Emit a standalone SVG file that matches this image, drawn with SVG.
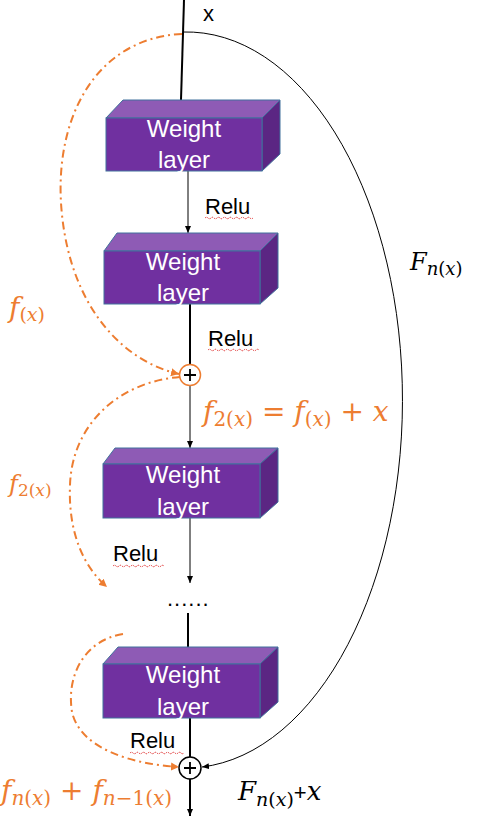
<svg xmlns="http://www.w3.org/2000/svg" width="481" height="829" viewBox="0 0 481 829">
<style>
.front{fill:#7030A0;stroke:#41719C;stroke-width:1}
.top{fill:#8E5BB5;stroke:#41719C;stroke-width:1}
.side{fill:#5B2683;stroke:#41719C;stroke-width:1}
.wl{font-family:"Liberation Sans",Arial,sans-serif;font-size:24px;fill:#fff;text-anchor:middle}
.lbl{font-family:"Liberation Sans",Arial,sans-serif;font-size:22px;fill:#000}
.m{font-family:"DejaVu Serif","Liberation Serif",serif}
.mi{font-style:italic}
.or{fill:#ED7D31}
.bk{fill:#000}
.thin{stroke:#000;stroke-width:1;fill:none}
.thick{stroke:#000;stroke-width:2;fill:none}
.dd{stroke:#ED7D31;stroke-width:2;fill:none;stroke-dasharray:8 4 2 4}
.sq{stroke:#E03030;stroke-width:1;fill:none;stroke-dasharray:1.5 1}
</style>
<defs>
<marker id="ab" markerWidth="8" markerHeight="8" refX="7" refY="4" orient="auto" markerUnits="userSpaceOnUse"><path d="M0,1 L7,4 L0,7 Z" fill="#000"/></marker>
<marker id="ao" markerWidth="10" markerHeight="10" refX="8" refY="5" orient="auto" markerUnits="userSpaceOnUse"><path d="M0,1 L8,5 L0,9 Z" fill="#ED7D31"/></marker>
</defs>

<g id="connectors">
<path class="thick" d="M184,0 L181,100"/>
<path class="thin" d="M188,171 L188,233" marker-end="url(#ab)"/>
<path class="thick" d="M190,304 L190,364"/>
<path class="thin" d="M190,386 L190,448" marker-end="url(#ab)"/>
<path class="thin" d="M190,518 L190,583" marker-end="url(#ab)"/>
<path class="thick" d="M188,613 L188,647"/>
<path class="thick" d="M190,712 L190,757"/>
<path class="thick" d="M190,779 L190,816" marker-end="url(#ab)"/>
<path class="thin" d="M183,32 A216 368 0 0 1 202,767" marker-end="url(#ab)"/>
<path class="dd" d="M182,34 C95,38 52,120 62,215 C72,310 125,362 179,374" marker-end="url(#ao)"/>
<path class="dd" d="M180,377 C118,382 72,425 70,485 C68,535 85,568 107,587" marker-end="url(#ao)"/>
<path class="dd" d="M123,634 C85,640 66,675 72,712 C80,748 130,764 179,767" marker-end="url(#ao)"/>
</g>

<g id="box1">
<polygon class="top" points="106,118 123,100 280,100 262,118"/>
<polygon class="side" points="262,118 280,100 280,154 262,171"/>
<rect class="front" x="106" y="118" width="156" height="53"/>
<text class="wl" x="184" y="137">Weight</text>
<text class="wl" x="184" y="168">layer</text>
</g>
<g id="box2">
<polygon class="top" points="104,251 117,233 278,233 260,251"/>
<polygon class="side" points="260,251 278,233 278,288 260,304"/>
<rect class="front" x="104" y="251" width="156" height="53"/>
<text class="wl" x="183" y="270">Weight</text>
<text class="wl" x="183" y="301">layer</text>
</g>
<g id="box3">
<polygon class="top" points="103,464 115,448 278,448 260,464"/>
<polygon class="side" points="260,464 278,448 278,502 260,518"/>
<rect class="front" x="103" y="464" width="157" height="54"/>
<text class="wl" x="183" y="483">Weight</text>
<text class="wl" x="183" y="515">layer</text>
</g>
<g id="box4">
<polygon class="top" points="103,664 118,647 278,647 260,664"/>
<polygon class="side" points="260,664 278,647 278,702 260,718"/>
<rect class="front" x="103" y="664" width="157" height="54"/>
<text class="wl" x="183" y="683">Weight</text>
<text class="wl" x="183" y="715">layer</text>
</g>

<g id="sum1">
<circle cx="190" cy="375" r="10.5" fill="#fff" stroke="#ED7D31" stroke-width="1.5"/>
<path d="M184,375 H196 M190,369 V381" stroke="#000" stroke-width="1.8"/>
</g>
<g id="sum2">
<circle cx="190" cy="768" r="11" fill="#fff" stroke="#000" stroke-width="1.5"/>
<path d="M184,768 H196 M190,762 V774" stroke="#000" stroke-width="1.8"/>
</g>

<g id="labels">
<text class="lbl" x="203" y="21">x</text>
<text class="lbl" x="205" y="214">Relu</text>
<path class="sq" d="M205,218 q1.5,-1.5 3,0 t3,0 t3,0 t3,0 t3,0 t3,0 t3,0 t3,0 t3,0 t3,0 t3,0 t3,0 t3,0 t3,0 t3,0 t3,0"/>
<text class="lbl" x="208" y="346">Relu</text>
<path class="sq" d="M208,350 q1.5,-1.5 3,0 t3,0 t3,0 t3,0 t3,0 t3,0 t3,0 t3,0 t3,0 t3,0 t3,0 t3,0 t3,0 t3,0 t3,0 t3,0 t3,0"/>
<text class="lbl" x="113" y="561">Relu</text>
<path class="sq" d="M113,566 q1.5,-1.5 3,0 t3,0 t3,0 t3,0 t3,0 t3,0 t3,0 t3,0 t3,0 t3,0 t3,0 t3,0 t3,0 t3,0 t3,0 t3,0 t3,0"/>
<text class="lbl" x="130" y="748">Relu</text>
<path class="sq" d="M130,753 q1.5,-1.5 3,0 t3,0 t3,0 t3,0 t3,0 t3,0 t3,0 t3,0 t3,0 t3,0 t3,0 t3,0 t3,0 t3,0 t3,0 t3,0 t3,0 t3,0"/>
<text class="lbl" x="167" y="606" font-size="20" letter-spacing="1">......</text>

<text class="m or" x="9" y="317" font-size="28"><tspan class="mi">f</tspan><tspan font-size="19" dy="4">(<tspan class="mi">x</tspan>)</tspan></text>
<text class="m or" x="9" y="492" font-size="24"><tspan class="mi">f</tspan><tspan font-size="17" dy="4">2(<tspan class="mi">x</tspan>)</tspan></text>
<text class="m or" x="203" y="421" font-size="28"><tspan class="mi">f</tspan><tspan font-size="20" dy="5">2(<tspan class="mi">x</tspan>)</tspan><tspan dy="-5"> = </tspan><tspan class="mi">f</tspan><tspan font-size="20" dy="5">(<tspan class="mi">x</tspan>)</tspan><tspan dy="-5"> + </tspan><tspan class="mi">x</tspan></text>
<text class="m or" x="1" y="800" font-size="28"><tspan class="mi">f</tspan><tspan font-size="20" dy="5"><tspan class="mi">n</tspan>(<tspan class="mi">x</tspan>)</tspan><tspan dy="-5"> + </tspan><tspan class="mi">f</tspan><tspan font-size="20" dy="5"><tspan class="mi">n</tspan>−1(<tspan class="mi">x</tspan>)</tspan></text>
<text class="m bk" x="410" y="270" font-size="24"><tspan class="mi">F</tspan><tspan font-size="18" dy="5"><tspan class="mi">n</tspan>(<tspan class="mi">x</tspan>)</tspan></text>
<text class="m bk" x="238" y="800" font-size="26"><tspan class="mi">F</tspan><tspan font-size="19" dy="6"><tspan class="mi">n</tspan>(<tspan class="mi">x</tspan>)</tspan><tspan dy="-6" font-size="22" font-family="Liberation Sans,sans-serif">+</tspan><tspan class="mi">x</tspan></text>
</g>
</svg>
